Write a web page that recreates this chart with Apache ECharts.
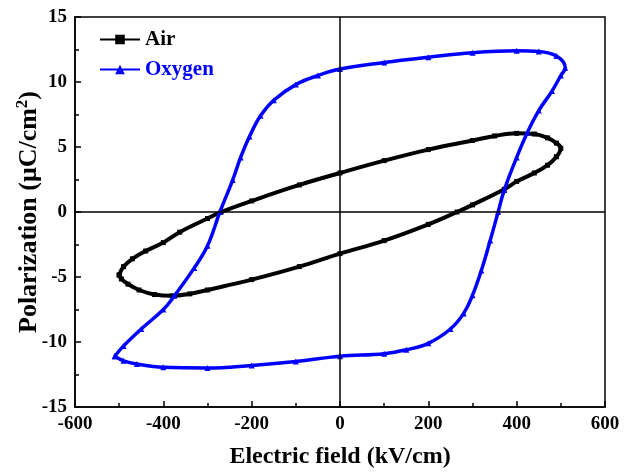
<!DOCTYPE html>
<html>
<head>
<meta charset="utf-8">
<script src="https://cdn.jsdelivr.net/npm/echarts@6/dist/echarts.min.js"></script>
<style>
  html, body { margin: 0; padding: 0; background: #fff; }
  #root { width: 624px; height: 475px; }
</style>
</head>
<body>
<div id="root"></div>
<script>
// P-E loops: [E (kV/cm), P (uC/cm2)]
const airUp = [
  [-500, -4.85], [-490, -4.2], [-470, -3.6], [-440, -3.0], [-400, -2.35], [-363, -1.55],
  [-300, -0.5], [-269, 0], [-200, 0.85], [-92, 2.08], [0, 3.0], [100, 3.95], [200, 4.8],
  [300, 5.5], [350, 5.85], [400, 6.05], [440, 6.0], [470, 5.7], [490, 5.3], [500, 4.9]
]
const airDown = [
  [500, 4.9], [490, 4.25], [470, 3.6], [440, 3.0], [400, 2.35], [372, 1.75], [300, 0.55],
  [265, 0], [200, -0.95], [100, -2.2], [0, -3.2], [-92, -4.2], [-200, -5.2], [-300, -6.0],
  [-340, -6.3], [-380, -6.45], [-420, -6.35], [-455, -6.0], [-480, -5.55], [-495, -5.15], [-500, -4.85]
]
const oxyUp = [
  [-510, -11.1], [-490, -10.3], [-450, -9.0], [-400, -7.5], [-375, -6.45], [-330, -4.3],
  [-300, -2.6], [-272, 0], [-243, 2.46], [-225, 4.2], [-205, 5.8], [-180, 7.4], [-150, 8.6],
  [-100, 9.8], [-50, 10.5], [0, 11.0], [100, 11.5], [200, 11.9], [300, 12.25], [400, 12.4],
  [450, 12.35], [490, 12.0], [510, 11.1]
]
const oxyDown = [
  [510, 11.1], [500, 10.5], [480, 9.3], [450, 7.8], [424, 6.1], [400, 4.2], [372, 1.7],
  [358, 0], [340, -2.2], [320, -4.5], [300, -6.4], [280, -7.8], [250, -9.0], [200, -10.1],
  [150, -10.6], [100, -10.9], [0, -11.1], [-100, -11.5], [-200, -11.8], [-300, -12.0],
  [-400, -11.95], [-460, -11.7], [-490, -11.45], [-510, -11.1]
]

const xTicks = [-600, 600, 200]
const yTicks = [-15, 15, 5]

const font = 'Liberation Serif, Times New Roman, serif'

const chart = echarts.init(document.getElementById('root'))

chart.setOption({
  animation: false,
  backgroundColor: '#fff',
  grid: {
    left: 75, right: 19, top: 17, bottom: 68,
    outerBoundsMode: 'none',
    show: true, borderColor: '#000', borderWidth: 1.5
  },
  legend: {
    orient: 'vertical',
    left: 94, top: 24,
    itemWidth: 40, itemHeight: 12, itemGap: 9,
    textStyle: { fontFamily: font, fontWeight: 'bold', fontSize: 21 },
    data: [
      { name: 'Air', textStyle: { color: '#000' } },
      { name: 'Oxygen', textStyle: { color: '#0000ff' } }
    ]
  },
  xAxis: {
    type: 'value',
    min: xTicks[0], max: xTicks[1], interval: xTicks[2],
    splitLine: { show: false },
    axisLine: { onZero: false, lineStyle: { color: '#000', width: 1.5 } },
    axisTick: { inside: true, length: 6, lineStyle: { color: '#000', width: 1.5 } },
    minorTick: { show: true, splitNumber: 2, length: 4, lineStyle: { color: '#000', width: 1.5 } },
    axisLabel: { color: '#000', fontFamily: font, fontWeight: 'bold', fontSize: 19, margin: 8 },
    name: 'Electric field (kV/cm)',
    nameLocation: 'middle', nameGap: 38,
    nameTextStyle: { color: '#000', fontFamily: font, fontWeight: 'bold', fontSize: 24 }
  },
  yAxis: {
    type: 'value',
    min: yTicks[0], max: yTicks[1], interval: yTicks[2],
    splitLine: { show: false },
    axisLine: { onZero: false, lineStyle: { color: '#000', width: 1.5 } },
    axisTick: { inside: true, length: 6, lineStyle: { color: '#000', width: 1.5 } },
    minorTick: { show: true, splitNumber: 2, length: 4, lineStyle: { color: '#000', width: 1.5 } },
    axisLabel: { color: '#000', fontFamily: font, fontWeight: 'bold', fontSize: 19, margin: 8 },
    name: 'Polarization (μC/cm{sup|2})',
    nameLocation: 'middle', nameGap: 30,
    nameMoveOverlap: false,
    nameTextStyle: {
      color: '#000', fontFamily: font, fontWeight: 'bold', fontSize: 26,
      rich: {
        sup: { fontFamily: font, fontWeight: 'bold', fontSize: 17, verticalAlign: 'bottom', padding: [0, 0, 14, 0] }
      }
    }
  },
  series: [
    {
      name: 'Air',
      type: 'line',
      data: airUp.concat(airDown.slice(1)),
      smooth: 0.4,
      symbol: 'rect', symbolSize: 5,
      itemStyle: { color: '#000' },
      lineStyle: { color: '#000', width: 4 },
      z: 3,
      markLine: {
        silent: true, symbol: 'none', animation: false,
        label: { show: false },
        lineStyle: { color: '#000', width: 1.5, type: 'solid' },
        data: [{ xAxis: 0 }, { yAxis: 0 }]
      }
    },
    {
      name: 'Oxygen',
      type: 'line',
      data: oxyUp.concat(oxyDown.slice(1)),
      smooth: 0.4,
      symbol: 'triangle', symbolSize: 6,
      itemStyle: { color: '#0000ff' },
      lineStyle: { color: '#0000ff', width: 3.5 },
      z: 4
    }
  ]
})
</script>
</body>
</html>
